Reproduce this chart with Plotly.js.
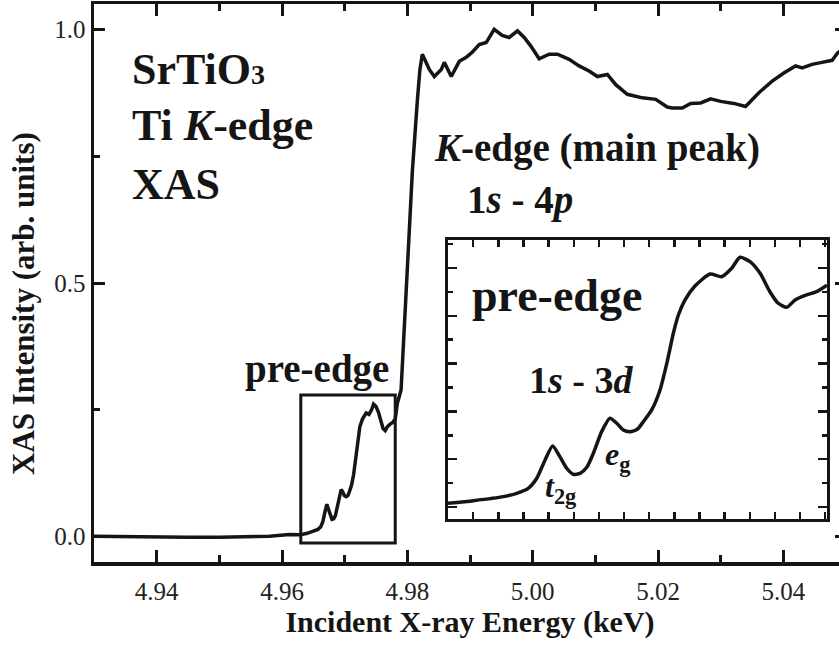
<!DOCTYPE html>
<html><head><meta charset="utf-8">
<script src="https://cdn.plot.ly/plotly-3.0.1.min.js"></script>
<style>html,body{margin:0;padding:0;overflow:hidden;background:#fff}</style>
</head><body><div id="chart" style="width:848px;height:646px"></div>
<script>
// Flat pre-edge baseline (keV, arb. units)
const baseEnergy    = [4.930, 4.935, 4.940, 4.945, 4.950, 4.955, 4.958, 4.9612];
const baseIntensity = [0.001, 0.000, -0.001, -0.001, -0.001, 0.000, 0.001, 0.004];

// Pre-edge region (shown in the inset and in the main curve)
const preEdgeEnergy = [4.96300, 4.96401, 4.96520, 4.96573, 4.96619, 4.96653, 4.96686, 4.96716,
  4.96745, 4.96772, 4.96798, 4.96825, 4.96852, 4.96878, 4.96911, 4.96944, 4.96971, 4.96997,
  4.97024, 4.97053, 4.97077, 4.97110, 4.97143, 4.97170, 4.97196, 4.97216, 4.97242, 4.97282,
  4.97342, 4.97388, 4.97428, 4.97461, 4.97501, 4.97541, 4.97580, 4.97613, 4.97647, 4.97680,
  4.97726, 4.97766, 4.97807];
const preEdgeIntensity = [0.0039, 0.0066, 0.0108, 0.0143, 0.0195, 0.0300, 0.0492, 0.0638,
  0.0526, 0.0405, 0.0342, 0.0352, 0.0415, 0.0562, 0.0788, 0.0928, 0.0876, 0.0806,
  0.0788, 0.0813, 0.0893, 0.1015, 0.1224, 0.1503, 0.1817, 0.2008, 0.2165, 0.2312,
  0.2437, 0.2409, 0.2497, 0.2612, 0.2566, 0.2444, 0.2252, 0.2131, 0.2089, 0.2165,
  0.2218, 0.2252, 0.2320];

// Main edge and post-edge
const edgeEnergy = [4.97841, 4.97900, 4.98000, 4.98080, 4.98160, 4.98200, 4.98239, 4.98351,
  4.98430, 4.98542, 4.98590, 4.98701, 4.98829, 4.98940, 4.99036, 4.99147, 4.99259, 4.99386,
  4.99514, 4.99625, 4.99758, 4.99865, 4.99971, 5.00104, 5.00263, 5.00395, 5.00582, 5.00741,
  5.00900, 5.01033, 5.01192, 5.01326, 5.01511, 5.01750, 5.01963, 5.02148, 5.02228, 5.02387,
  5.02521, 5.02680, 5.02840, 5.02999, 5.03211, 5.03397, 5.03610, 5.03822, 5.04008, 5.04195,
  5.04300, 5.04459, 5.04618, 5.04778, 5.04869, 5.05000];
const edgeIntensity = [0.263, 0.289, 0.545, 0.720, 0.860, 0.920, 0.951, 0.921,
  0.907, 0.921, 0.935, 0.907, 0.937, 0.945, 0.955, 0.970, 0.974, 1.000,
  0.988, 0.984, 0.997, 0.984, 0.967, 0.942, 0.951, 0.951, 0.941, 0.928,
  0.918, 0.907, 0.911, 0.891, 0.872, 0.865, 0.862, 0.847, 0.845, 0.845,
  0.854, 0.855, 0.863, 0.858, 0.854, 0.848, 0.875, 0.898, 0.914, 0.928,
  0.924, 0.931, 0.935, 0.939, 0.954, 0.965];

const xTickVals = [4.94, 4.96, 4.98, 5.00, 5.02, 5.04];
const xTickText = ['4.94', '4.96', '4.98', '5.00', '5.02', '5.04'];
const yTickVals = [0, 0.5, 1.0];
const yTickText = ['0.0', '0.5', '1.0'];

const insetXRange = [4.9630, 4.97807];
const insetYRange = [-0.0126, 0.2793];

const INK = '#151515';
const SERIF = 'Liberation Serif';

const mainX = baseEnergy.concat(preEdgeEnergy, edgeEnergy);
const mainY = baseIntensity.concat(preEdgeIntensity, edgeIntensity);

const traces = [
  {x: mainX, y: mainY, type: 'scatter', mode: 'lines', xaxis: 'x', yaxis: 'y',
   line: {color: INK, width: 3.5}, hoverinfo: 'skip'},
  {x: preEdgeEnergy, y: preEdgeIntensity, type: 'scatter', mode: 'lines', xaxis: 'x2', yaxis: 'y2',
   line: {color: INK, width: 3.5, shape: 'spline', smoothing: 0.6}, hoverinfo: 'skip'}
];

const W = 848, H = 646, ML = 94, MR = 2, MT = 4, MB = 84;
const pw = W - ML - MR, ph = H - MT - MB;
const px = v => (v - ML) / pw;
const py = v => (H - MB - v) / ph;

function ann(text, x, y, size, extra) {
  return Object.assign({text: text, xref: 'paper', yref: 'paper', x: px(x), y: py(y),
    xanchor: 'left', yanchor: 'middle', showarrow: false,
    font: {family: SERIF, size: size, color: INK}}, extra || {});
}

const layout = {
  width: W, height: H,
  margin: {l: ML, r: MR, t: MT, b: MB, pad: 0},
  paper_bgcolor: '#fff', plot_bgcolor: '#fff',
  showlegend: false,
  font: {family: SERIF, color: INK},
  xaxis: {
    domain: [0, 1], range: [4.93, 5.05], anchor: 'y',
    tickmode: 'array', tickvals: xTickVals, ticktext: xTickText,
    ticks: 'inside', ticklen: 12, tickwidth: 3, tickcolor: INK,
    minor: {tickmode: 'linear', tick0: 4.93, dtick: 0.01, ticks: 'inside', ticklen: 7, tickwidth: 3, tickcolor: INK},
    showline: true, linewidth: 3.5, linecolor: INK, mirror: 'ticks',
    showgrid: false, zeroline: false,
    tickfont: {family: SERIF, size: 25, color: '#222'},
    ticklabelstandoff: 4,
    title: {text: '<b>Incident X-ray Energy (keV)</b>', font: {family: SERIF, size: 30, color: INK}, standoff: 8},
    automargin: false
  },
  yaxis: {
    domain: [0, 1], range: [-0.05, 1.05], anchor: 'x',
    tickmode: 'array', tickvals: yTickVals, ticktext: yTickText,
    ticks: 'inside', ticklen: 11, tickwidth: 3, tickcolor: INK,
    minor: {tickmode: 'linear', tick0: 0, dtick: 0.25, ticks: 'inside', ticklen: 6, tickwidth: 3, tickcolor: INK},
    showline: true, linewidth: 3.5, linecolor: INK, mirror: 'ticks',
    showgrid: false, zeroline: false,
    tickfont: {family: SERIF, size: 25, color: '#222'},
    automargin: false
  },
  xaxis2: {
    domain: [px(448), px(827)], range: insetXRange, anchor: 'y2',
    tickmode: 'linear', tick0: insetXRange[0], dtick: 0.001,
    ticks: 'inside', ticklen: 7, tickwidth: 2.5, tickcolor: INK,
    showticklabels: false, showline: true, linewidth: 3, linecolor: INK, mirror: 'ticks',
    showgrid: false, zeroline: false
  },
  yaxis2: {
    domain: [py(519), py(240)], range: insetYRange, anchor: 'x2',
    tickmode: 'linear', tick0: 0, dtick: 0.05,
    ticks: 'inside', ticklen: 9, tickwidth: 2.5, tickcolor: INK,
    minor: {tickmode: 'linear', tick0: 0, dtick: 0.025, ticks: 'inside', ticklen: 5, tickwidth: 2.5, tickcolor: INK},
    showticklabels: false, showline: true, linewidth: 3, linecolor: INK, mirror: 'ticks',
    showgrid: false, zeroline: false
  },
  shapes: [
    {type: 'rect', xref: 'x', yref: 'y', x0: insetXRange[0], x1: insetXRange[1],
     y0: insetYRange[0], y1: insetYRange[1], line: {color: INK, width: 3}, fillcolor: 'rgba(0,0,0,0)'}
  ],
  annotations: [
    ann('<b>SrTiO<span style="font-size:28px">3</span></b>', 130, 69, 44),
    ann('<b>Ti <i>K</i>-edge</b>', 130, 125, 44),
    ann('<b>XAS</b>', 130, 184, 44),
    ann('<b><i>K</i>-edge (main peak)</b>', 432, 148, 39),
    ann('<b>1<i>s</i> - 4<i>p</i></b>', 465, 200, 39),
    ann('<b>pre-edge</b>', 243, 369, 39),
    ann('<b>pre-edge</b>', 470, 295, 46),
    ann('<b>1<i>s</i> - 3<i>d</i></b>', 527, 380, 38),
    ann('<b><i>e</i><sub>g</sub></b>', 603, 457, 32),
    ann('<b><i>t</i><sub>2g</sub></b>', 543, 488, 32),
    ann('<b>XAS Intensity (arb. units)</b>', 23, 304, 31, {xanchor: 'center', textangle: -90})
  ]
};

Plotly.newPlot('chart', traces, layout, {staticPlot: true, displayModeBar: false});
</script>
</body></html>
